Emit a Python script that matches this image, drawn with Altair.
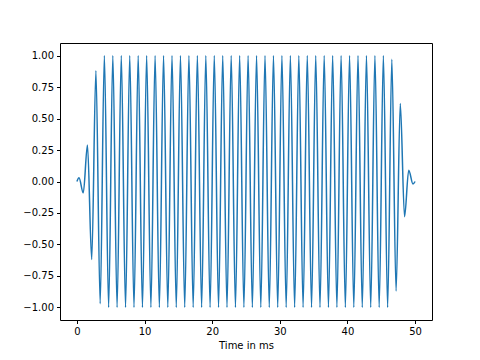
import altair as alt
import pandas as pd

# Extrema of the tapered tone (time in ms, amplitude)
peak_t = [0.31, 1.56, 2.81, 4.06, 5.31, 6.56, 7.81, 9.06, 10.31, 11.56,
          12.81, 14.06, 15.31, 16.56, 17.81, 19.06, 20.31, 21.56, 22.81, 24.06,
          25.31, 26.56, 27.81, 29.06, 30.31, 31.56, 32.81, 34.06, 35.31, 36.56,
          37.81, 39.06, 40.31, 41.56, 42.81, 44.06, 45.31, 46.56, 47.81, 49.06]
peak_v = [0.03, 0.29, 0.88, 1.0, 1.0, 1.0, 1.0, 1.0, 1.0, 1.0,
          1.0, 1.0, 1.0, 1.0, 1.0, 1.0, 1.0, 1.0, 1.0, 1.0,
          1.0, 1.0, 1.0, 1.0, 1.0, 1.0, 1.0, 1.0, 1.0, 1.0,
          1.0, 1.0, 1.0, 1.0, 1.0, 1.0, 1.0, 0.97, 0.62, 0.09]
trough_t = [0.94, 2.19, 3.44, 4.69, 5.94, 7.19, 8.44, 9.69, 10.94, 12.19,
            13.44, 14.69, 15.94, 17.19, 18.44, 19.69, 20.94, 22.19, 23.44, 24.69,
            25.94, 27.19, 28.44, 29.69, 30.94, 32.19, 33.44, 34.69, 35.94, 37.19,
            38.44, 39.69, 40.94, 42.19, 43.44, 44.69, 45.94, 47.19, 48.44, 49.69]
trough_v = [-0.09, -0.62, -0.97, -1.0, -1.0, -1.0, -1.0, -1.0, -1.0, -1.0,
            -1.0, -1.0, -1.0, -1.0, -1.0, -1.0, -1.0, -1.0, -1.0, -1.0,
            -1.0, -1.0, -1.0, -1.0, -1.0, -1.0, -1.0, -1.0, -1.0, -1.0,
            -1.0, -1.0, -1.0, -1.0, -1.0, -1.0, -1.0, -0.87, -0.28, -0.02]
end_t = [0.0, 50.0]
end_v = [0.0, 0.0]

x_ticks = [0, 10, 20, 30, 40, 50]
y_ticks = [-1.0, -0.75, -0.5, -0.25, 0.0, 0.25, 0.5, 0.75, 1.0]

df = pd.DataFrame({
    "t": end_t + peak_t + trough_t,
    "v": end_v + peak_v + trough_v,
}).sort_values("t").reset_index(drop=True)

chart = alt.Chart(df).mark_line(
    color="#1f77b4", strokeWidth=1.5, interpolate="monotone"
).encode(
    x=alt.X("t:Q", title="Time in ms",
            scale=alt.Scale(domain=[-2.5, 52.5], nice=False, zero=False),
            axis=alt.Axis(values=x_ticks, format="d")),
    y=alt.Y("v:Q", title=None,
            scale=alt.Scale(domain=[-1.1, 1.1], nice=False, zero=False),
            axis=alt.Axis(values=y_ticks, format=".2f")),
).properties(
    width=372, height=277,
    autosize=alt.AutoSizeParams(type="none"),
    padding={"left": 52, "top": 35, "right": 40, "bottom": 40},
).configure_view(
    stroke="#000000", strokeWidth=1
).configure_axis(
    domain=False, grid=False,
    ticks=True, tickColor="#000000", tickSize=3.5, tickWidth=1,
    labelFont="DejaVu Sans", labelFontSize=10, labelColor="#000000",
    labelPadding=3,
    titleFont="DejaVu Sans", titleFontSize=10, titleFontWeight="normal",
    titleColor="#000000", titlePadding=4,
)

chart.save("out.html", embed_options={"renderer": "svg", "actions": False})
